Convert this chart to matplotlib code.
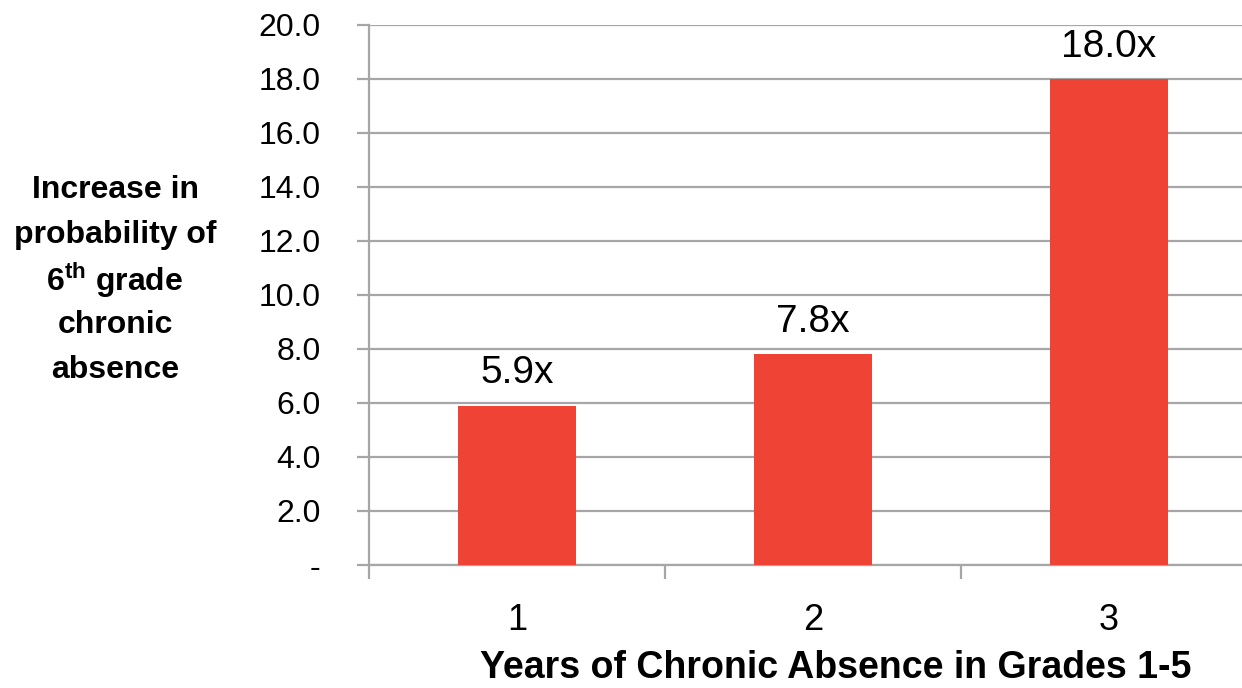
import matplotlib
matplotlib.use("Agg")
import matplotlib.pyplot as plt
from matplotlib.ticker import FixedLocator

plt.rcParams["mathtext.fontset"] = "custom"
plt.rcParams["mathtext.rm"] = "Liberation Sans"
plt.rcParams["mathtext.bf"] = "Liberation Sans:bold"

years = ["1", "2", "3"]
increase = [5.9, 7.8, 18.0]
bar_labels = ["5.9x", "7.8x", "18.0x"]
y_ticks = [0, 2, 4, 6, 8, 10, 12, 14, 16, 18, 20]
y_tick_labels = ["-", "2.0", "4.0", "6.0", "8.0", "10.0", "12.0", "14.0", "16.0", "18.0", "20.0"]
ylabel_lines = ["Increase in", "probability of", "6$^{\\mathbf{th}}$ grade", "chronic", "absence"]

grid_col = "#a6a6a6"
bar_col = "#ef4336"

fig = plt.figure(figsize=(12.42, 6.88), dpi=100)
ax = fig.add_axes([369 / 1242, 123 / 688, 888 / 1242, 540 / 688])

x = range(len(years))
ax.bar(x, increase, width=0.4, color=bar_col, zorder=3)

for i, v in enumerate(increase):
    ax.text(i, v + 1.2, bar_labels[i], ha="center", va="center",
            fontsize=28, family="Liberation Sans", color="black")

ax.set_xlim(-0.5, 2.5)
ax.set_ylim(0, 20)

ax.set_yticks(y_ticks)
ax.set_yticklabels(y_tick_labels, family="Liberation Sans", fontsize=23)
ax.yaxis.grid(True, color=grid_col, linewidth=1.6, zorder=0)
ax.tick_params(axis="y", length=9, width=1.6, color=grid_col, pad=26)

ax.set_xticks(list(x))
ax.set_xticklabels(years, family="Liberation Sans", fontsize=26)
ax.tick_params(axis="x", length=0, pad=27)
ax.xaxis.set_minor_locator(FixedLocator([-0.5, 0.5, 1.5, 2.5]))
ax.tick_params(axis="x", which="minor", length=10, width=1.6, color=grid_col)

for s in ["top", "right"]:
    ax.spines[s].set_visible(False)
ax.spines["left"].set_color(grid_col)
ax.spines["left"].set_linewidth(1.6)
ax.spines["bottom"].set_color(grid_col)
ax.spines["bottom"].set_linewidth(1.6)

fig.text(836 / 1242, 1 - 668 / 688, "Years of Chronic Absence in Grades 1-5",
         ha="center", va="center", family="Liberation Sans", fontsize=27,
         fontweight="bold")

for k, line in enumerate(ylabel_lines):
    fig.text(115 / 1242, 1 - (190 + 45 * k) / 688, line, ha="center", va="center",
             family="Liberation Sans", fontsize=23, fontweight="bold")

fig.savefig("out.png", dpi=100)
